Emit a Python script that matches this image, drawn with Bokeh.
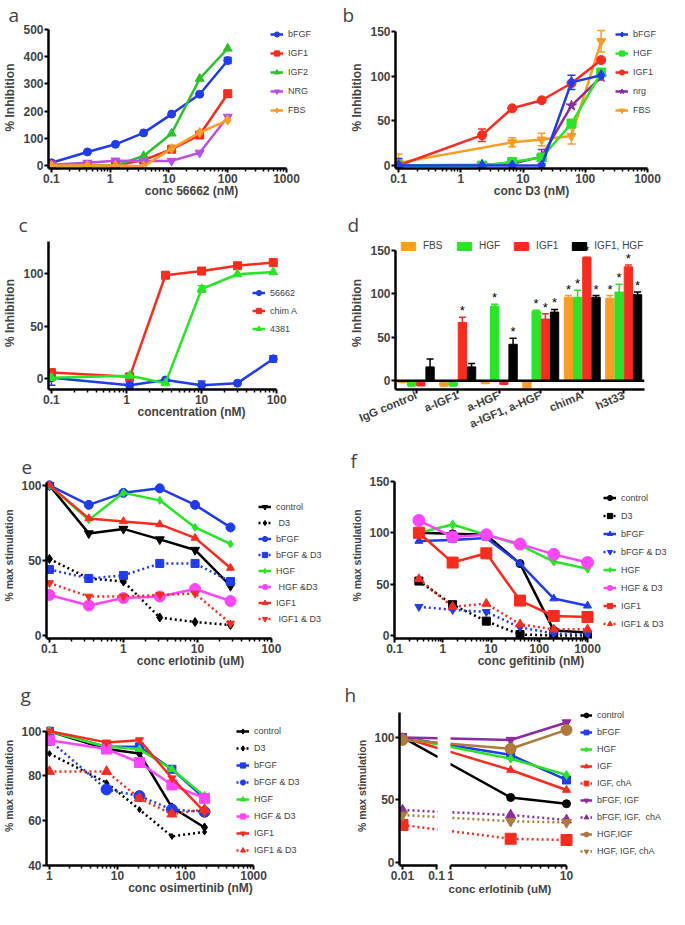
import numpy as np
from bokeh.plotting import figure
from bokeh.layouts import row, column
from bokeh.models import (ColumnDataSource, Legend, LegendItem, Whisker, TeeHead, Title,
                          FixedTicker, Span, FactorRange, Range1d, CustomJSTickFormatter)
from bokeh.transform import dodge
from bokeh.core.properties import value
from bokeh.embed import file_html
from bokeh.resources import INLINE

# ---------------- data ----------------
# panel a : % inhibition vs conc 56662 (nM)
a_conc = [0.1, 0.41, 1.23, 3.7, 11.1, 33.3, 100]
a_bFGF = [10, 50, 78, 120, 189, 262, 386]
a_bFGF_err = [0, 0, 0, 0, 0, 4, 11]
a_IGF1 = [2, 2, 0, 20, 60, 112, 264]
a_IGF1_err = [0, 0, 0, 0, 0, 7, 11]
a_IGF2 = [0, 0, 0, 35, 118, 319, 430]
a_NRG = [3, 10, 18, 17, 17, 47, 179]
a_FBS = [0, 0, 0, -3, 62, 121, 167]
a_xticks = [0.1, 1, 10, 100, 1000]
a_yticks = [0, 100, 200, 300, 400, 500]

# panel b : % inhibition vs conc D3 (nM)
b_conc = [0.1, 2.2, 6.7, 20, 60, 180]
b_bFGF = [0, 0, 0, 0, 93, 101]
b_bFGF_err = [8, 4, 0, 0, 8, 0]
b_HGF = [0, 0, 4, 9, 47, 104]
b_HGF_err = [0, 0, 4, 4, 0, 0]
b_IGF1 = [0, 34, 64, 73, 92, 118]
b_IGF1_err = [6, 7, 0, 0, 0, 0]
b_nrg = [0, 1, 2, 10, 67, 99]
b_nrg_err = [0, 0, 0, 8, 0, 0]
b_FBS_conc = [0.1, 6.7, 20, 60, 180]
b_FBS = [3, 26, 29, 33, 139]
b_FBS_err = [10, 5, 7, 9, 12]
b_xticks = [0.1, 1, 10, 100, 1000]
b_yticks = [0, 50, 100, 150]

# panel c : % inhibition vs concentration (nM)
c_conc = [0.1, 1.1, 3.3, 10, 30, 90]
c_56662 = [1, -6, -1, -6, -4, 19]
c_56662_err = [7, 3, 0, 4, 0, 3]
c_chimA = [6, 2, 98, 102, 107, 110]
c_chimA_err = [0, 3, 0, 0, 0, 0]
c_4381 = [1, 3, -4, 85, 99, 101]
c_4381_err = [0, 0, 0, 3, 0, 0]
c_xticks = [0.1, 1, 10, 100]
c_yticks = [0, 50, 100]

# panel d : grouped bars
d_groups = ["IgG control", "a-IGF1", "a-HGF", "a-IGF1, a-HGF", "chimA", "h3t33"]
d_FBS = [-2, -6, -3, -8, 96, 95]
d_FBS_err = [0, 0, 0, 0, 2, 3]
d_FBS_sig = [0, 0, 0, 0, 1, 1]
d_HGF = [-6, -6, 86, 80, 96, 102]
d_HGF_err = [0, 0, 2, 1, 8, 9]
d_HGF_sig = [0, 0, 1, 1, 1, 1]
d_IGF1 = [-6, 67, -4, 71, 142, 131]
d_IGF1_err = [2, 6, 0, 6, 0, 2]
d_IGF1_sig = [0, 1, 0, 1, 1, 1]
d_IGF1HGF = [16, 16, 42, 79, 96, 99]
d_IGF1HGF_err = [9, 4, 7, 3, 2, 3]
d_IGF1HGF_sig = [0, 0, 1, 1, 1, 1]
d_yticks = [0, 50, 100, 150]

# panel e : % max stimulation vs conc erlotinib (uM)
e_conc = [0.1, 0.34, 1.0, 3.1, 9.3, 28]
e_control = [100, 68, 71, 64, 57, 33]
e_D3 = [51, 38, 36, 12, 9, 7]
e_bFGF = [100, 87, 95, 98, 87, 72]
e_bFGF_D3 = [44, 38, 40, 48, 48, 36]
e_HGF = [100, 77, 95, 90, 72, 61]
e_HGF_D3 = [27, 20, 25, 26, 31, 23]
e_IGF1 = [100, 78, 76, 74, 65, 45]
e_IGF1_D3 = [35, 26, 26, 27, 28, 8]
e_xticks = [0.1, 1, 10, 100]
e_yticks = [0, 50, 100]

# panel f : % max stimulation vs conc gefitinib (nM)
f_conc = [0.32, 1.6, 8, 40, 200, 1000]
f_control = [100, 99, 98, 70, 5, 3]
f_D3 = [53, 30, 14, 1, 0, 0]
f_bFGF = [92, 93, 95, 70, 36, 29]
f_bFGF_D3 = [28, 25, 23, 8, 2, 1]
f_HGF = [100, 108, 98, 88, 72, 65]
f_HGF_D3 = [112, 96, 98, 89, 79, 71]
f_IGF1 = [100, 71, 80, 34, 19, 18]
f_IGF1_D3 = [55, 28, 31, 11, 6, 6]
f_xticks = [0.1, 1, 10, 100, 1000]
f_yticks = [0, 50, 100, 150]

# panel g : % max stimulation vs conc osimertinib (nM)
g_conc = [1, 6.9, 21, 63, 190]
g_control = [100, 92, 90, 66, 57]
g_D3 = [90, 77, 65, 53, 55]
g_bFGF = [100, 93, 93, 83, 70]
g_bFGF_D3 = [96, 74, 71, 65, 64]
g_HGF = [100, 93, 92, 83, 71]
g_HGF_D3 = [96, 92, 86, 76, 70]
g_IGF1 = [100, 95, 96, 79, 64]
g_IGF1_D3 = [82, 82, 70, 63, 65]
g_xticks = [1, 10, 100, 1000]
g_yticks = [40, 60, 80, 100]

# panel h : % max stimulation vs conc erlotinib (uM), broken axis
h_conc = [0.01, 3.3, 10]
h_control = [100, 52, 47]
h_bFGF = [100, 86, 66]
h_HGF = [100, 83, 70]
h_IGF = [100, 74, 58]
h_IGF_chA = [30, 19, 18]
h_bFGF_IGF = [100, 98, 112]
h_bFGF_IGF_chA = [42, 38, 34]
h_HGF_IGF = [98, 91, 106]
h_HGF_IGF_chA = [38, 33, 32]
h_xticks_left = [0.01, 0.1]
h_xticks_right = [1, 10]
h_yticks = [0, 50, 100]

# ---------------- style ----------------
FONT = "Liberation Sans"
LFONT = "Open Sans"
BLUE = "#1f3cf2"
RED = "#fb2b1e"
GREEN = "#26e626"
GREEN_A = "#2bc22b"
ORANGE = "#ff9c22"
VIOLET = "#b94ee8"
PURPLE = "#8d2ba0"
MAGENTA = "#ff46ff"
BROWN = "#b07a3a"
BLACK = "#000000"
DOT = "2 3"
TOP = 24


def rng(lo, hi, p_lo, p_hi, size, log=False):
    """Range whose 'lo' value sits p_lo px and 'hi' value p_hi px from the frame start."""
    if log:
        lo, hi = np.log10(lo), np.log10(hi)
    upp = (hi - lo) / (p_hi - p_lo)
    start = lo - p_lo * upp
    end = start + size * upp
    if log:
        return Range1d(10 ** start, 10 ** end)
    return Range1d(start, end)


def style_axis(ax):
    ax.axis_line_width = 2.5
    ax.axis_line_color = "black"
    ax.major_tick_line_width = 2
    ax.minor_tick_line_width = 1.5
    ax.major_tick_out = 4
    ax.major_tick_in = 0
    ax.minor_tick_out = 3
    ax.minor_tick_in = 0
    ax.major_label_text_font = FONT
    ax.major_label_text_font_style = "bold"
    ax.major_label_text_font_size = "12px"
    ax.major_label_standoff = 1
    ax.axis_label_text_font = FONT
    ax.axis_label_text_font_style = "bold"
    ax.axis_label_text_font_size = "12px"
    ax.axis_label_standoff = -2


def new_fig(W, H, L, R, T, B, xr, yr, xtype="linear", yaxis=True):
    p = figure(width=W, height=H, x_range=xr, y_range=yr, x_axis_type=xtype,
               y_axis_location="left" if yaxis else None,
               min_border_left=L, min_border_right=R, min_border_top=T, min_border_bottom=B,
               output_backend="svg", toolbar_location=None)
    p.outline_line_color = None
    p.xgrid.visible = False
    p.ygrid.visible = False
    for ax in p.axis:
        style_axis(ax)
    return p


def set_log_x(p, ticks):
    minors = [m * t for t in ticks[:-1] for m in range(2, 10)]
    p.xaxis.ticker = FixedTicker(ticks=ticks, minor_ticks=minors)
    p.xaxis.formatter = CustomJSTickFormatter(code="return tick.toString();")
    p.xaxis.bounds = (p.x_range.start, ticks[-1])


def set_y(p, ticks, label, size="12px", top=None):
    p.yaxis.ticker = FixedTicker(ticks=ticks)
    p.yaxis.axis_label = label
    p.yaxis.axis_label_text_font_size = size
    p.yaxis.axis_label_standoff = 3
    p.yaxis.bounds = (p.y_range.start, ticks[-1] if top is None else top)


def add_series(p, x, y, color, marker, size=8, dash="solid", err=None):
    src = ColumnDataSource(dict(x=list(x), y=list(y)))
    rl = p.line("x", "y", source=src, line_color=color, line_width=2.5, line_dash=dash)
    rs = p.scatter("x", "y", source=src, marker=marker, size=size,
                   fill_color=color, line_color=color)
    if err is not None:
        bx = [xi for xi, e in zip(x, err) if e]
        lo = [yi - e for yi, e in zip(y, err) if e]
        hi = [yi + e for yi, e in zip(y, err) if e]
        wsrc = ColumnDataSource(dict(b=bx, lo=lo, hi=hi))
        w = Whisker(source=wsrc, base="b", lower="lo", upper="hi",
                    line_color=color, line_width=1.5,
                    upper_head=TeeHead(size=8, line_color=color, line_width=1.5),
                    lower_head=TeeHead(size=8, line_color=color, line_width=1.5))
        p.add_layout(w)
    return [rl, rs]


def add_legend(p, entries, x, top_off, fh, item=19, spacing=3, font="9px", gw=13):
    gh = item - spacing
    n = len(entries)
    lh = n * gh + (n - 1) * spacing
    leg = Legend(items=[LegendItem(label=lab, renderers=r) for lab, r in entries],
                 location=(x, fh - top_off - lh), orientation="vertical",
                 glyph_width=gw, glyph_height=gh, label_height=gh, spacing=spacing,
                 padding=0, margin=0, label_standoff=5,
                 label_text_font=FONT, label_text_font_size=font,
                 background_fill_alpha=0, border_line_color=None)
    p.add_layout(leg)


def letter(p, txt, offset):
    p.title.text = txt
    p.title.align = "left"
    p.title.offset = offset
    p.title.text_font = LFONT
    p.title.text_font_style = "normal"
    p.title.text_font_size = "19px"
    p.title.standoff = -2


# ================= row 1 =================
H1, B1 = 210, 42
# ---------------- panel a ----------------
W, L, R = 336, 42, 2
fw, fh = W - L - R, H1 - TOP - B1
pa = new_fig(W, H1, L, R, TOP, B1, rng(0.1, 1000, 3, 243, fw, log=True),
             rng(0, 500, 3, fh - 3, fh), xtype="log")
set_log_x(pa, a_xticks)
set_y(pa, a_yticks, "% Inhibition")
pa.xaxis.axis_label = "conc 56662 (nM)"
ra = [
    ("bFGF", add_series(pa, a_conc, a_bFGF, BLUE, "circle", 8, err=a_bFGF_err)),
    ("IGF1", add_series(pa, a_conc, a_IGF1, RED, "square", 8, err=a_IGF1_err)),
    ("IGF2", add_series(pa, a_conc, a_IGF2, GREEN_A, "triangle", 9)),
    ("NRG", add_series(pa, a_conc, a_NRG, VIOLET, "inverted_triangle", 9)),
    ("FBS", add_series(pa, a_conc, a_FBS, ORANGE, "diamond", 10)),
]
add_legend(pa, ra, 222, 2, fh, item=19)
letter(pa, "a", -40)

# ---------------- panel b ----------------
W, L, R = 333, 59, 2
fw, fh = W - L - R, H1 - TOP - B1
pb = new_fig(W, H1, L, R, TOP, B1, rng(0.1, 1000, 3, 252, fw, log=True),
             rng(0, 150, 3, fh - 5, fh), xtype="log")
set_log_x(pb, b_xticks)
set_y(pb, b_yticks, "% Inhibition")
pb.xaxis.axis_label = "conc D3 (nM)"
rb_FBS = add_series(pb, b_FBS_conc, b_FBS, ORANGE, "inverted_triangle", 9, err=b_FBS_err)
rb_nrg = add_series(pb, b_conc, b_nrg, PURPLE, "star", 11, err=b_nrg_err)
rb_HGF = add_series(pb, b_conc, b_HGF, GREEN, "square", 9, err=b_HGF_err)
rb_IGF1 = add_series(pb, b_conc, b_IGF1, RED, "circle", 9, err=b_IGF1_err)
rb_bFGF = add_series(pb, b_conc, b_bFGF, BLUE, "diamond", 11, err=b_bFGF_err)
add_legend(pb, [("bFGF", rb_bFGF), ("HGF", rb_HGF), ("IGF1", rb_IGF1),
                ("nrg", rb_nrg), ("FBS", rb_FBS)], 220, 2, fh, item=19)
letter(pb, "b", -53)

# ================= row 2 =================
H2, B2 = 236, 57
# ---------------- panel c ----------------
W, L, R = 336, 42, 2
fw, fh = W - L - R, H2 - TOP - B2
pc = new_fig(W, H2, L, R, TOP, B2, rng(0.1, 100, 3, 233, fw, log=True),
             rng(-10, 130, 0, fh - 5, fh), xtype="log")
set_log_x(pc, c_xticks)
set_y(pc, c_yticks, "% Inhibition", top=130)
pc.xaxis.axis_label = "concentration (nM)"
rc = [
    ("56662", add_series(pc, c_conc, c_56662, BLUE, "circle", 8, err=c_56662_err)),
    ("chim A", add_series(pc, c_conc, c_chimA, RED, "square", 8, err=c_chimA_err)),
    ("4381", add_series(pc, c_conc, c_4381, GREEN, "triangle", 9, err=c_4381_err)),
]
add_legend(pc, rc, 204, 51, fh, item=18)
letter(pc, "c", -30)

# ---------------- panel d ----------------
W, L, R = 333, 59, 25
fw, fh = W - L - R, H2 - TOP - B2
pd_ = new_fig(W, H2, L, R, TOP, B2, FactorRange(*d_groups),
              rng(-10, 150, 0, fh - 14, fh), xtype="auto")
set_y(pd_, d_yticks, "% Inhibition")
pd_.xaxis.major_label_orientation = 0.4
pd_.xaxis.major_label_text_font_size = "11.5px"
pd_.xaxis.minor_tick_line_color = None
pd_.add_layout(Span(location=0, dimension="width", line_color="black", line_width=2.5))
d_series = [
    ("FBS", d_FBS, d_FBS_err, d_FBS_sig, ORANGE, -0.333),
    ("HGF", d_HGF, d_HGF_err, d_HGF_sig, GREEN, -0.111),
    ("IGF1", d_IGF1, d_IGF1_err, d_IGF1_sig, RED, 0.111),
    ("IGF1, HGF", d_IGF1HGF, d_IGF1HGF_err, d_IGF1HGF_sig, BLACK, 0.333),
]
d_items = []
for name, vals, errs, sig, col, off in d_series:
    src = ColumnDataSource(dict(cat=d_groups, top=vals,
                                hi=[v + e for v, e in zip(vals, errs)],
                                star=["*" if s else "" for s in sig]))
    xd = dodge("cat", off, range=pd_.x_range)
    rbar = pd_.vbar(x=xd, top="top", bottom=0, width=0.2, source=src,
                    fill_color=col, line_color=col)
    pd_.segment(x0=xd, y0="top", x1=xd, y1="hi", source=src, line_color=col, line_width=1.5)
    pd_.scatter(x=xd, y="hi", marker="dash", size=7, source=src, line_color=col, line_width=1.5)
    pd_.text(x=xd, y="hi", text="star", source=src, text_align="center",
             text_baseline="bottom", text_font=value(FONT), text_font_size=value("13px"),
             text_color="black", y_offset=1)
    d_items.append(LegendItem(label=name, renderers=[rbar]))
dleg = Legend(items=d_items, location="top_left", orientation="horizontal",
              glyph_width=18, glyph_height=10, label_height=10, spacing=12,
              padding=0, margin=4, label_standoff=6, label_text_font=FONT,
              label_text_font_size="10px", background_fill_alpha=0, border_line_color=None)
pd_.add_layout(dleg)
letter(pd_, "d", -48)

# ================= row 3 =================
H3, B3 = 234, 42
# ---------------- panel e ----------------
W, L, R = 336, 42, 2
fw, fh = W - L - R, H3 - TOP - B3
pe = new_fig(W, H3, L, R, TOP, B3, rng(0.1, 100, 3, 228, fw, log=True),
             rng(0, 100, 3, fh - 13, fh), xtype="log")
set_log_x(pe, e_xticks)
set_y(pe, e_yticks, "% max stimulation", "10.5px", top=102)
pe.xaxis.axis_label = "conc erlotinib (uM)"
re_ = [
    ("control", add_series(pe, e_conc, e_control, BLACK, "inverted_triangle", 9)),
    (" D3", add_series(pe, e_conc, e_D3, BLACK, "diamond", 9, dash=DOT)),
    ("bFGF", add_series(pe, e_conc, e_bFGF, BLUE, "circle", 9)),
    ("bFGF & D3", add_series(pe, e_conc, e_bFGF_D3, BLUE, "square", 8, dash=DOT)),
    ("HGF", add_series(pe, e_conc, e_HGF, GREEN, "diamond", 8)),
    (" HGF &D3", add_series(pe, e_conc, e_HGF_D3, MAGENTA, "circle", 11)),
    ("IGF1", add_series(pe, e_conc, e_IGF1, RED, "triangle", 8)),
    (" IGF1 & D3", add_series(pe, e_conc, e_IGF1_D3, RED, "inverted_triangle", 8, dash=DOT)),
]
add_legend(pe, re_, 212, 30, fh, item=16)
letter(pe, "e", -25)

# ---------------- panel f ----------------
W, L, R = 333, 58, 2
fw, fh = W - L - R, H3 - TOP - B3
pf = new_fig(W, H3, L, R, TOP, B3, rng(0.1, 1000, 0, 193, fw, log=True),
             rng(0, 150, 3, fh - 9, fh), xtype="log")
set_log_x(pf, f_xticks)
set_y(pf, f_yticks, "% max stimulation", "10.5px")
pf.xaxis.axis_label = "conc gefitinib (nM)"
rf = [
    ("control", add_series(pf, f_conc, f_control, BLACK, "circle", 8)),
    ("D3", add_series(pf, f_conc, f_D3, BLACK, "square", 8, dash=DOT)),
    ("bFGF", add_series(pf, f_conc, f_bFGF, BLUE, "triangle", 8)),
    ("bFGF & D3", add_series(pf, f_conc, f_bFGF_D3, BLUE, "inverted_triangle", 8, dash=DOT)),
    ("HGF", add_series(pf, f_conc, f_HGF, GREEN, "diamond", 9)),
    ("HGF & D3", add_series(pf, f_conc, f_HGF_D3, MAGENTA, "circle", 12)),
    ("IGF1", add_series(pf, f_conc, f_IGF1, RED, "square", 11)),
    ("IGF1 & D3", add_series(pf, f_conc, f_IGF1_D3, RED, "triangle", 9, dash=DOT)),
]
add_legend(pf, rf, 209, 20, fh, item=18)
letter(pf, "f", -44)

# ================= row 4 =================
H4, B4 = 229, 44
# ---------------- panel g ----------------
W, L, R = 336, 42, 2
fw, fh = W - L - R, H4 - TOP - B4
pg = new_fig(W, H4, L, R, TOP, B4, rng(1, 1000, 3, 210, fw, log=True),
             rng(40, 100, 0, fh - 25, fh), xtype="log")
set_log_x(pg, g_xticks)
set_y(pg, g_yticks, "% max stimulation", "10.5px")
pg.xaxis.axis_label = "conc osimertinib (nM)"
rg = [
    ("control", add_series(pg, g_conc, g_control, BLACK, "diamond", 9)),
    ("D3", add_series(pg, g_conc, g_D3, BLACK, "diamond", 6, dash=DOT)),
    ("bFGF", add_series(pg, g_conc, g_bFGF, BLUE, "square", 8)),
    ("bFGF & D3", add_series(pg, g_conc, g_bFGF_D3, BLUE, "circle", 11, dash=DOT)),
    ("HGF", add_series(pg, g_conc, g_HGF, GREEN, "triangle", 8)),
    ("HGF & D3", add_series(pg, g_conc, g_HGF_D3, MAGENTA, "square", 10)),
    ("IGF1", add_series(pg, g_conc, g_IGF1, RED, "inverted_triangle", 8)),
    ("IGF1 & D3", add_series(pg, g_conc, g_IGF1_D3, RED, "triangle", 10, dash=DOT)),
]
add_legend(pg, rg, 190, 20, fh, item=17)
letter(pg, "g", -26)

# ---------------- panel h (broken x axis) ----------------
S1, GAP, S2 = 34.0, 14.0, 116.0


def brk(x):
    x = np.asarray(x, dtype=float)
    return np.where(x <= 0.1, S1 * (np.log10(x) + 2), S1 + GAP + S2 * np.log10(x))


fh = H4 - TOP - B4
WL_, LL_, RL_ = 110, 63, 9
phL = new_fig(WL_, H4, LL_, RL_, TOP, B4, Range1d(float(brk(0.01)) - 3, float(brk(0.1)) + 1),
              rng(0, 120, 3, fh - 6, fh))
WR_, LR_, RR_ = 223, 4, 2
fwR = WR_ - LR_ - RR_
phR = new_fig(WR_, H4, LR_, RR_, TOP, B4, Range1d(S1 + GAP, S1 + GAP + fwR),
              phL.y_range, yaxis=False)


def fixed_labels(ax, ticks, minors=()):
    pos = [float(v) for v in brk(ticks)]
    ax.ticker = FixedTicker(ticks=pos, minor_ticks=[float(v) for v in brk(minors)] if len(minors) else [])
    ax.formatter = CustomJSTickFormatter(
        args=dict(pos=pos, lab=[("%g" % t) for t in ticks]),
        code="for (let i = 0; i < pos.length; i++) { if (Math.abs(pos[i] - tick) < 1e-6) return lab[i]; } return '';")


fixed_labels(phL.xaxis[0], h_xticks_left)
fixed_labels(phR.xaxis[0], h_xticks_right, [m for m in range(2, 10)])
phR.xaxis.bounds = (S1 + GAP, float(brk(10)))
set_y(phL, h_yticks, "% max stimulation", "10.5px", top=120)

h_specs = [
    ("control", h_control, BLACK, "circle", 8, "solid"),
    ("bFGF", h_bFGF, BLUE, "square", 8, "solid"),
    ("HGF", h_HGF, GREEN, "diamond", 9, "solid"),
    ("IGF", h_IGF, RED, "triangle", 8, "solid"),
    ("IGF, chA", h_IGF_chA, RED, "square", 11, DOT),
    ("bFGF, IGF", h_bFGF_IGF, PURPLE, "inverted_triangle", 9, "solid"),
    ("bFGF, IGF,  chA", h_bFGF_IGF_chA, PURPLE, "triangle", 10, DOT),
    ("HGF,IGF", h_HGF_IGF, BROWN, "circle", 11, "solid"),
    ("HGF, IGF, chA", h_HGF_IGF_chA, BROWN, "inverted_triangle", 10, DOT),
]
rh = []
hx = brk(h_conc)
for name, ys, col, mk, sz, dsh in h_specs:
    add_series(phL, hx, ys, col, mk, sz, dash=dsh)
    rh.append((name, add_series(phR, hx, ys, col, mk, sz, dash=dsh)))
add_legend(phR, rh, 130, 4, fh, item=17, gw=12)
letter(phL, "h", -55)
# axis title of the broken axis, placed under both segments
phR.add_layout(Title(text="conc erlotinib (uM)", align="left", offset=-2, vertical_align="top",
                     standoff=0, text_font=FONT, text_font_style="bold",
                     text_font_size="11.5px"), "below")

layout = column(row(pa, pb), row(pc, pd_), row(pe, pf), row(pg, row(phL, phR)))
open("out.html", "w").write(file_html(layout, INLINE))
